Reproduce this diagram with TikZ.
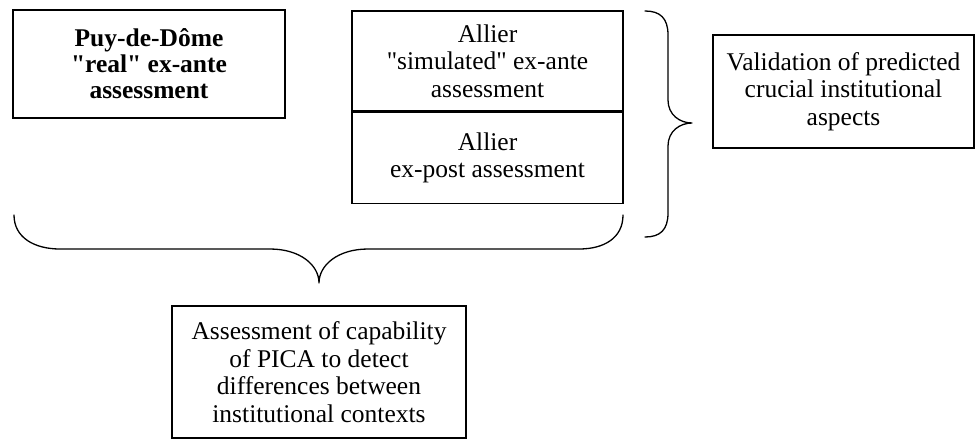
\documentclass[tikz,border=0pt]{standalone}
\usepackage{fontspec}
\setmainfont{Liberation Serif}[Ligatures=TeXOff]
\begin{document}
\begin{tikzpicture}[x=1pt,y=-1pt,line width=1.2pt,
  txt/.style={font=\fontsize{25.5}{27.5}\selectfont},
  box/.style={draw,rectangle,inner sep=0pt,align=center,txt},
  bracepath/.style={line width=1.3pt,line cap=round,line join=round}]
\useasboundingbox (0,0) rectangle (976,440);
% boxes
\node[box,minimum width=272pt,minimum height=108pt,font=\fontsize{25.5}{26}\selectfont\bfseries] (pdd) at (149,64) {Puy-de-Dôme\\"real" ex-ante\\assessment};
\node[box,minimum width=271pt,minimum height=100pt] (sim) at (487.5,61) {Allier\\"simulated" ex-ante\\assessment};
\node[box,minimum width=271pt,minimum height=91pt,anchor=north] (post) at (sim.south) {Allier\\ex-post assessment};
\node[box,minimum width=261pt,minimum height=113pt] (val) at (843.5,91.5) {Validation of predicted\\crucial institutional\\aspects};
\node[box,minimum width=294pt,minimum height=132pt] (cap) at (319,372) {Assessment of capability\\of PICA to detect\\differences between\\institutional contexts};
% brace tips
\coordinate (rtip) at (692,123);
\coordinate (btip) at (319,283);
% right brace
\draw[bracepath] (645,11) .. controls (660,11) and (668,18) .. (668,35) -- (668,100)
  .. controls (668,115) and (680,123) .. (rtip)
  .. controls (680,123) and (668,131) .. (668,146) -- (668,213)
  .. controls (668,230) and (660,237) .. (645,237);
% bottom brace
\draw[bracepath] (14,215) .. controls (14,238) and (35,249) .. (60,249) -- (270,249)
  .. controls (300,249) and (319,265) .. (btip)
  .. controls (319,265) and (338,249) .. (368,249) -- (579,249)
  .. controls (604,249) and (623,238) .. (623,215);
\end{tikzpicture}
\end{document}
